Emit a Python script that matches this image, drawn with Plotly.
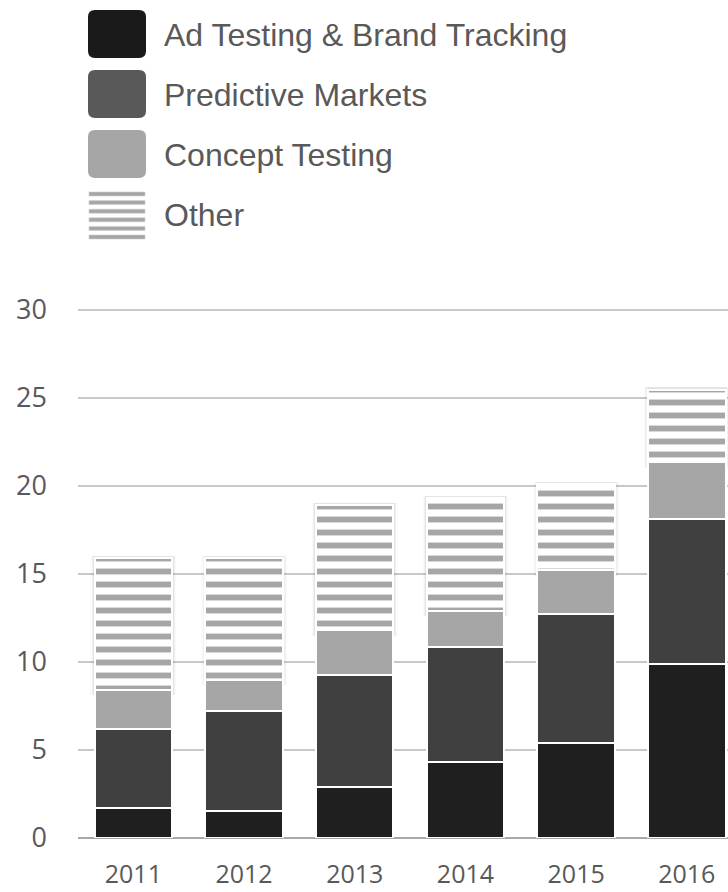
import plotly.graph_objects as go

# ---- data -------------------------------------------------------------
years = ["2011", "2012", "2013", "2014", "2015", "2016"]
ad_testing = [1.7, 1.55, 2.9, 4.3, 5.4, 9.9]
predictive = [4.5, 5.65, 6.35, 6.55, 7.35, 8.2]
concept = [2.2, 1.8, 2.55, 2.05, 2.45, 3.25]
other = [7.5, 6.9, 7.1, 6.4, 4.9, 4.1]
series_names = ["Ad Testing & Brand Tracking", "Predictive Markets",
                "Concept Testing", "Other"]
y_ticks = [0, 5, 10, 15, 20, 25, 30]

# ---- page geometry (pixels) --------------------------------------------
W, H = 728, 892
L, R, T, B = 78, 0, 305, 54
plot_w, plot_h = W - L - R, H - T - B
px_per_unit = 17.6                      # vertical scale of the value axis
y_top = plot_h / px_per_unit            # a little headroom so the 30 line shows

def px(x):
    return (x - L) / plot_w

def py(y):
    return (H - B - y) / plot_h

TEXT = "#595959"
bar_colors = ["#1f1f1f", "#404040", "#a6a6a6"]
swatch_colors = ["#1a1a1a", "#595959", "#a6a6a6"]

fig = go.Figure()

# soft halo behind the "Other" segments
other_base = [a + p + c for a, p, c in zip(ad_testing, predictive, concept)]
for w, alpha in [(0.775, 0.02), (0.75, 0.035), (0.728, 0.05)]:
    fig.add_trace(go.Bar(
        x=years, y=[o + 0.45 for o in other], base=[b - 0.3 for b in other_base],
        width=w, marker=dict(color=f"rgba(0,0,0,{alpha})", line=dict(width=0)),
        xaxis="x", yaxis="y", showlegend=False, hoverinfo="skip"))

# stacked bars
for vals, name, col in zip([ad_testing, predictive, concept], series_names[:3], bar_colors):
    fig.add_trace(go.Bar(
        x=years, y=vals, name=name, width=0.7,
        marker=dict(color=col, line=dict(color="white", width=2)),
        xaxis="x2", yaxis="y2", showlegend=False))

fig.add_trace(go.Bar(
    x=years, y=other, name=series_names[3], width=0.7,
    marker=dict(color="white", line=dict(color="white", width=2),
                pattern=dict(shape="-", size=13, solidity=0.45,
                             fgcolor="#a6a6a6", bgcolor="white", fillmode="replace")),
    xaxis="x2", yaxis="y2", showlegend=False))

# ---- custom legend ------------------------------------------------------
def rounded_rect(x0, y0, x1, y1, r):
    # pixel rectangle with rounded corners, converted to paper coordinates
    pts = [
        ("M", x0 + r, y0), ("L", x1 - r, y0), ("Q", x1, y0, x1, y0 + r),
        ("L", x1, y1 - r), ("Q", x1, y1, x1 - r, y1), ("L", x0 + r, y1),
        ("Q", x0, y1, x0, y1 - r), ("L", x0, y0 + r), ("Q", x0, y0, x0 + r, y0),
    ]
    out = []
    for p in pts:
        cmd, coords = p[0], p[1:]
        pairs = []
        for i in range(0, len(coords), 2):
            pairs.append(f"{px(coords[i]):.5f},{py(coords[i + 1]):.5f}")
        out.append(cmd + " " + " ".join(pairs))
    return " ".join(out) + " Z"

shapes = []
annotations = []
sw_x0, sw_x1 = 88, 146
row_top = [10, 70, 130, 190]
sw_h = 48
for i, name in enumerate(series_names):
    y0 = row_top[i]
    if i < 3:
        shapes.append(dict(type="path", xref="paper", yref="paper",
                           path=rounded_rect(sw_x0, y0, sw_x1, y0 + sw_h, 7),
                           fillcolor=swatch_colors[i], line=dict(width=0), layer="above"))
    else:
        stripe_y = [y0 + 2 + k * 8.6 for k in range(6)]
        for sy in stripe_y:
            shapes.append(dict(type="rect", xref="paper", yref="paper",
                               x0=px(sw_x0 + 1), x1=px(sw_x1 - 1),
                               y0=py(sy), y1=py(sy + 4),
                               fillcolor="#a6a6a6", line=dict(width=0.6, color="#cfcfcf"),
                               layer="above"))
    annotations.append(dict(
        text=name, xref="paper", yref="paper", x=px(162), y=py(y0 + sw_h / 2 + 1),
        xanchor="left", yanchor="middle", showarrow=False,
        font=dict(family="Liberation Sans, Arial, sans-serif", size=32, color=TEXT)))

fig.update_layout(
    width=W, height=H,
    margin=dict(l=L, r=R, t=T, b=B, pad=0),
    paper_bgcolor="white", plot_bgcolor="white",
    barmode="stack", bargap=0.3,
    shapes=shapes, annotations=annotations,
    showlegend=False,
    xaxis=dict(type="category", range=[-0.5, 5.372], showgrid=False, zeroline=False,
               showline=False, ticks="", ticklabelstandoff=19, automargin=False,
               tickfont=dict(family="Open Sans, sans-serif", size=25, color=TEXT)),
    yaxis=dict(range=[0, y_top], tickvals=y_ticks, showgrid=True, gridcolor="#c8c8c8",
               gridwidth=1.5, zeroline=True, zerolinecolor="#a8a8a8", zerolinewidth=2,
               showline=False, ticks="", ticklabelstandoff=30, automargin=False,
               tickfont=dict(family="Open Sans, sans-serif", size=27, color=TEXT)),
    xaxis2=dict(type="category", overlaying="x", matches="x", visible=False),
    yaxis2=dict(overlaying="y", matches="y", visible=False),
)

fig.write_html("out.html")
